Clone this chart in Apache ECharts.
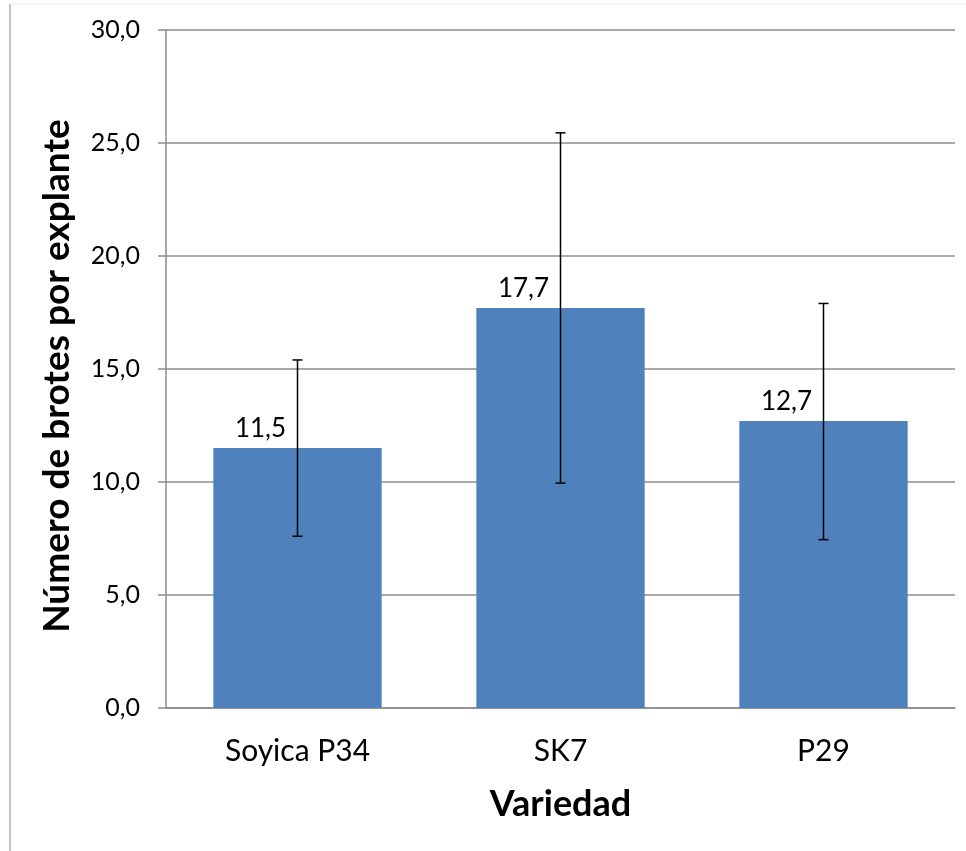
<!DOCTYPE html>
<html>
<head>
<meta charset="utf-8">
<script src="https://cdn.jsdelivr.net/npm/echarts@6/dist/echarts.min.js"></script>
<style>
html,body{margin:0;padding:0;background:#fff;}
#chart{width:966px;height:851px;}
</style>
</head>
<body>
<div id="chart"></div>
<script>
const categories = ['Soyica P34', 'SK7', 'P29'];
const means = [11.5, 17.7, 12.7];
const errLow = [7.6, 9.95, 7.45];
const errHigh = [15.4, 25.45, 17.9];
const yTicks = [0, 5, 10, 15, 20, 25, 30];

const FONT = 'Lato, "Open Sans", sans-serif';
const chart = echarts.init(document.getElementById('chart'), null, {renderer: 'canvas'});

const errData = categories.map((c, i) => [i, errLow[i], errHigh[i]]);

chart.setOption({
  animation: false,
  backgroundColor: '#ffffff',
  graphic: [
    {type: 'line', shape: {x1: 10, y1: 4, x2: 10, y2: 851}, style: {stroke: '#b0b0b0', lineWidth: 1.5}, silent: true},
    {type: 'line', shape: {x1: 10, y1: 4, x2: 966, y2: 4}, style: {stroke: '#ececec', lineWidth: 1}, silent: true}
  ],
  grid: {left: 166, right: 11, top: 30, bottom: 143, containLabel: false},
  xAxis: {
    type: 'category',
    data: categories,
    axisLine: {show: true, lineStyle: {color: '#8c8c8c', width: 1.5}},
    axisTick: {show: false},
    axisLabel: {color: '#000', fontFamily: FONT, fontSize: 30, margin: 28},
    name: 'Variedad',
    nameLocation: 'middle',
    nameGap: 78,
    nameTextStyle: {color: '#000', fontFamily: FONT, fontSize: 36, fontWeight: 'bold'}
  },
  yAxis: {
    type: 'value',
    min: yTicks[0],
    max: yTicks[yTicks.length - 1],
    interval: 5,
    axisLine: {show: true, lineStyle: {color: '#8c8c8c', width: 1.5}},
    axisTick: {show: true, length: 8, lineStyle: {color: '#8c8c8c', width: 1.5}},
    splitLine: {show: true, lineStyle: {color: '#8c8c8c', width: 1.5}},
    axisLabel: {
      color: '#000', fontFamily: FONT, fontSize: 25, margin: 26,
      formatter: v => v.toFixed(1).replace('.', ',')
    },
    name: 'Número de brotes por explante',
    nameLocation: 'middle',
    nameGap: 90,
    nameTextStyle: {color: '#000', fontFamily: FONT, fontSize: 37, fontWeight: 'bold', padding: [0, 14, 0, 0]}
  },
  series: [
    {
      type: 'bar',
      data: means,
      barWidth: '64%',
      itemStyle: {color: '#4F81BD'},
      label: {
        show: true,
        position: 'top',
        distance: 6,
        offset: [-37, 0],
        color: '#000',
        fontFamily: FONT,
        fontSize: 26,
        formatter: p => p.value.toFixed(1).replace('.', ',')
      },
      z: 2
    },
    {
      type: 'custom',
      data: errData,
      z: 5,
      renderItem: function (params, api) {
        const x = api.value(0);
        const lo = api.coord([x, api.value(1)]);
        const hi = api.coord([x, api.value(2)]);
        const cap = 5;
        const style = {stroke: '#000', lineWidth: 1.5};
        return {
          type: 'group',
          children: [
            {type: 'line', shape: {x1: lo[0], y1: lo[1], x2: hi[0], y2: hi[1]}, style: style},
            {type: 'line', shape: {x1: lo[0] - cap, y1: lo[1], x2: lo[0] + cap, y2: lo[1]}, style: style},
            {type: 'line', shape: {x1: hi[0] - cap, y1: hi[1], x2: hi[0] + cap, y2: hi[1]}, style: style}
          ]
        };
      }
    }
  ]
});
</script>
</body>
</html>
